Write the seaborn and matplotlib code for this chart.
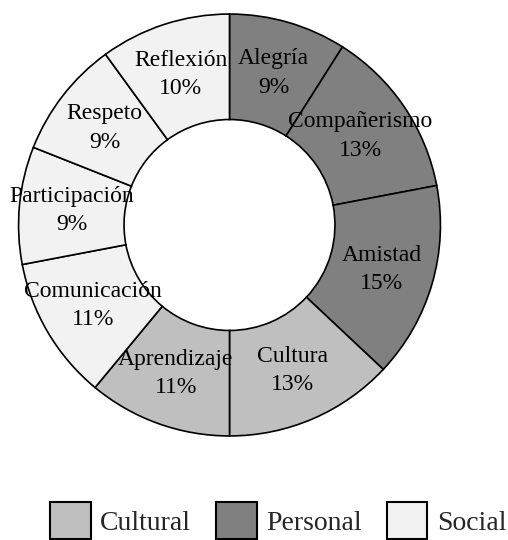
import matplotlib
matplotlib.use("Agg")
import matplotlib.pyplot as plt
from matplotlib.patches import Patch
import seaborn as sns

# Data
labels = ['Alegría', 'Compañerismo', 'Amistad', 'Cultura', 'Aprendizaje',
          'Comunicación', 'Participación', 'Respeto', 'Reflexión']
values = [9, 13, 15, 13, 11, 11, 9, 9, 10]
groups = ['Personal', 'Personal', 'Personal', 'Cultural', 'Cultural',
          'Social', 'Social', 'Social', 'Social']
legend_order = ['Cultural', 'Personal', 'Social']
group_colors = {'Cultural': '#bfbfbf', 'Personal': '#808080', 'Social': '#f2f2f2'}

sns.set_theme(style="white")
plt.rcParams['font.family'] = ['Liberation Serif', 'DejaVu Serif']

fig = plt.figure(figsize=(5.08, 5.40), dpi=100)
ax = fig.add_axes([17.5 / 508, 1 - 437 / 540, 424 / 508, 424 / 540])

colors = [group_colors[g] for g in groups]
label_iter = iter(labels)


def fmt(pct):
    return '%s\n%d%%' % (next(label_iter), round(pct))


# donut: label + percentage centred in each ring segment
wedges, texts = ax.pie(values, colors=colors, startangle=90, counterclock=False,
                       radius=1, wedgeprops=dict(width=0.5, edgecolor='black', linewidth=1.2),
                       autopct=fmt, pctdistance=0.75,
                       textprops=dict(fontsize=17, color='black', linespacing=1.45))[:2]
ax.set_xlim(-1.005, 1.005)
ax.set_ylim(-1.005, 1.005)
ax.set_aspect('equal')
ax.axis('off')

handles = [Patch(facecolor=group_colors[g], edgecolor='black', linewidth=1.5, label=g)
           for g in legend_order]
fig.legend(handles=handles, loc='center', bbox_to_anchor=(0.548, 0.036), ncol=3,
           frameon=False, fontsize=20, handlelength=1.45, handleheight=1.7,
           handletextpad=0.35, columnspacing=0.9, borderpad=0)

fig.savefig('out.png', dpi=100)
